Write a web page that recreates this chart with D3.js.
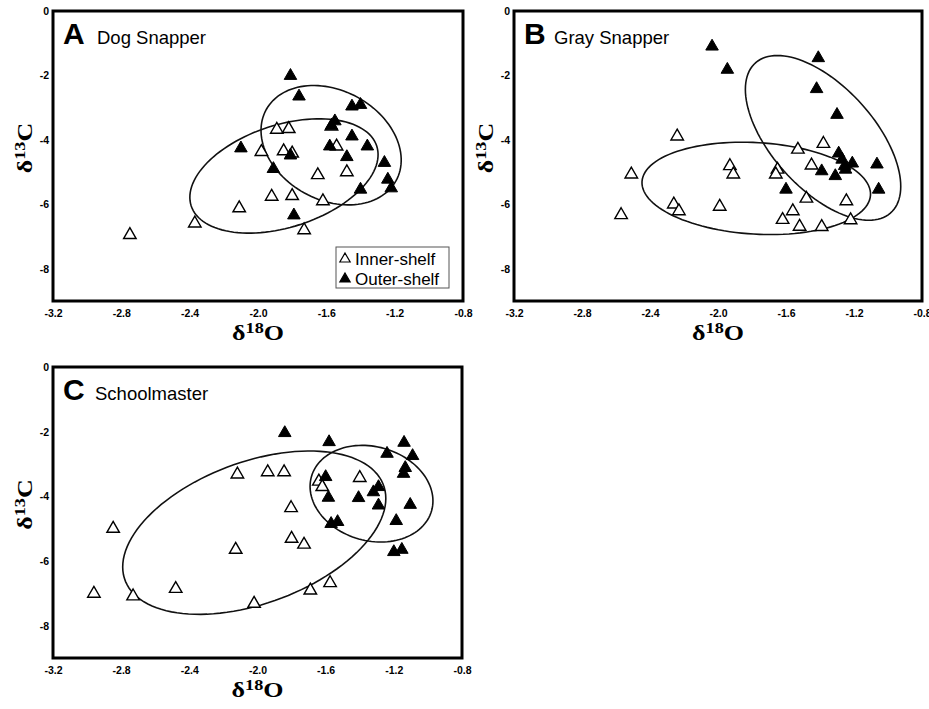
<!DOCTYPE html>
<html>
<head>
<meta charset="utf-8">
<script src="https://cdn.jsdelivr.net/npm/d3@7"></script>
<style>
body{margin:0;background:#fff;}
text{font-family:"Liberation Sans",Arial,sans-serif;}
</style>
</head>
<body>
<script>
const width = 929;
const height = 709;

const xTicks = [-3.2,-2.8,-2.4,-2.0,-1.6,-1.2,-0.8];
const yTicks = [0,-2,-4,-6,-8];

// [d18O, d13C]
const dogInner = [[-2.75,-6.95],[-2.37,-6.59],[-2.11,-6.12],[-1.98,-4.37],[-1.89,-3.68],[-1.82,-3.66],
[-1.85,-4.35],[-1.80,-4.42],[-1.92,-5.76],[-1.80,-5.74],[-1.73,-6.80],[-1.65,-5.09],[-1.62,-5.90],
[-1.54,-4.20],[-1.48,-5.00],[-1.57,-3.58]];
const dogOuter = [[-1.81,-2.01],[-1.76,-2.65],[-2.10,-4.26],[-1.91,-4.90],[-1.81,-4.48],[-1.79,-6.34],
[-1.45,-2.96],[-1.40,-2.91],[-1.55,-3.42],[-1.57,-3.56],[-1.58,-4.20],[-1.45,-3.89],[-1.36,-4.20],
[-1.48,-4.53],[-1.26,-4.71],[-1.24,-5.23],[-1.22,-5.50],[-1.40,-5.54]];

const grayInner = [[-2.57,-6.33],[-2.51,-5.07],[-2.26,-6.00],[-2.23,-6.21],[-2.24,-3.89],[-1.99,-6.07],
[-1.93,-4.81],[-1.91,-5.07],[-1.65,-4.92],[-1.66,-5.07],[-1.53,-4.30],[-1.45,-4.79],[-1.38,-4.12],
[-1.48,-5.82],[-1.56,-6.21],[-1.62,-6.48],[-1.52,-6.69],[-1.39,-6.70],[-1.245,-5.90],[-1.22,-6.49]];
const grayOuter = [[-2.035,-1.10],[-1.945,-1.82],[-1.41,-1.46],[-1.42,-2.42],[-1.30,-3.22],[-1.29,-4.42],
[-1.27,-4.61],[-1.255,-4.81],[-1.21,-4.73],[-1.39,-4.97],[-1.31,-5.12],[-1.25,-4.92],[-1.065,-4.76],
[-1.055,-5.54],[-1.60,-5.54]];

const schoolInner = [[-2.96,-7.01],[-2.847,-5.00],[-2.73,-7.09],[-2.48,-6.86],[-2.128,-5.65],[-2.118,-3.32],
[-1.94,-3.25],[-1.844,-3.25],[-1.803,-4.36],[-1.80,-5.31],[-1.727,-5.49],[-2.02,-7.32],[-1.69,-6.91],
[-1.574,-6.68],[-1.64,-3.54],[-1.62,-3.71],[-1.40,-3.43]];
const schoolOuter = [[-1.84,-2.04],[-1.58,-2.32],[-1.60,-3.40],[-1.584,-4.04],[-1.568,-4.85],[-1.53,-4.79],
[-1.407,-4.05],[-1.32,-3.87],[-1.29,-3.71],[-1.29,-4.28],[-1.24,-2.68],[-1.14,-2.34],[-1.09,-2.75],
[-1.133,-3.12],[-1.143,-3.30],[-1.104,-4.26],[-1.186,-4.76],[-1.20,-5.72],[-1.153,-5.65]];

// ellipses: centre and two conjugate half-axis vectors, in data units
const dogEllipses = [
{cx:-1.848,cy:-5.12,ux:0.543,uy:0.930,vx:0.093,vy:-1.510},
{cx:-1.572,cy:-4.165,ux:0.3795,uy:-1.109,vx:-0.156,vy:-1.484}
];
const grayEllipses = [
{cx:-1.775,cy:-5.505,ux:0.672,uy:-0.210,vx:-0.016,vy:-1.418},
{cx:-1.382,cy:-3.938,ux:0.457,uy:-1.504,vx:0,vy:-2.067}
];
const schoolEllipses = [
{cx:-2.019,cy:-5.124,ux:0.772,uy:1.060,vx:0,vy:-2.293},
{cx:-1.331,cy:-3.918,ux:0.3605,uy:-0.224,vx:0,vy:-1.478}
];

const legendLabels = ["Inner-shelf","Outer-shelf"];

const panels = [
{letter:"A",name:"Dog Snapper",inner:dogInner,outer:dogOuter,ell:dogEllipses,
 left:53,right:463,top:11,bottom:301,nameDx:44,legend:true},
{letter:"B",name:"Gray Snapper",inner:grayInner,outer:grayOuter,ell:grayEllipses,
 left:514,right:922,top:11,bottom:301,nameDx:40,legend:false},
{letter:"C",name:"Schoolmaster",inner:schoolInner,outer:schoolOuter,ell:schoolEllipses,
 left:53,right:462,top:367,bottom:658,nameDx:42,legend:false}
];

const svg = d3.select("body")
.append("svg")
.attr("width",width)
.attr("height",height);

const tri = d3.symbol().type(d3.symbolTriangle).size(68);
const triSmall = d3.symbol().type(d3.symbolTriangle).size(46);

panels.forEach(p=>{

const g = svg.append("g");

const x = d3.scaleLinear().domain([-3.2,-0.8]).range([p.left,p.right]);
const y = d3.scaleLinear().domain([-9,0]).range([p.bottom,p.top]);

// X AXIS
g.append("g")
.attr("transform",`translate(0,${p.bottom})`)
.call(d3.axisBottom(x).tickValues(xTicks).tickSize(0).tickPadding(9).tickFormat(d=>d.toFixed(1)))
.call(a=>a.select(".domain").remove())
.selectAll("text")
.style("font-family","'Liberation Sans',Arial,sans-serif")
.style("font-weight","bold")
.style("font-size","10.5px")
.attr("fill","#000");

// Y AXIS
g.append("g")
.attr("transform",`translate(${p.left},0)`)
.call(d3.axisLeft(y).tickValues(yTicks).tickSize(0).tickPadding(4).tickFormat(d=>d.toFixed(0)))
.call(a=>a.select(".domain").remove())
.selectAll("text")
.style("font-family","'Liberation Sans',Arial,sans-serif")
.style("font-weight","bold")
.style("font-size","10.5px")
.attr("fill","#000");

// ELLIPSES
const line = d3.line().x(d=>x(d[0])).y(d=>y(d[1])).curve(d3.curveLinearClosed);
p.ell.forEach(e=>{
const pts = d3.range(0,360,3).map(deg=>{
const t = deg*Math.PI/180;
return [e.cx+e.ux*Math.cos(t)+e.vx*Math.sin(t), e.cy+e.uy*Math.cos(t)+e.vy*Math.sin(t)];
});
g.append("path")
.datum(pts)
.attr("fill","none")
.attr("stroke","#111")
.attr("stroke-width",1.6)
.attr("d",line);
});

// POINTS
g.selectAll(".inner")
.data(p.inner)
.enter()
.append("path")
.attr("class","inner")
.attr("transform",d=>`translate(${x(d[0])},${y(d[1])})`)
.attr("d",tri)
.attr("fill","#fff")
.attr("stroke","#000")
.attr("stroke-width",1.4);

g.selectAll(".outer")
.data(p.outer)
.enter()
.append("path")
.attr("class","outer")
.attr("transform",d=>`translate(${x(d[0])},${y(d[1])})`)
.attr("d",tri)
.attr("fill","#000")
.attr("stroke","#000")
.attr("stroke-width",1);

// FRAME
g.append("rect")
.attr("x",p.left)
.attr("y",p.top)
.attr("width",p.right-p.left)
.attr("height",p.bottom-p.top)
.attr("fill","none")
.attr("stroke","#000")
.attr("stroke-width",3);

// TITLE
g.append("text")
.attr("x",p.left+10)
.attr("y",p.top+33)
.style("font-weight","bold")
.style("font-size","30px")
.text(p.letter);

g.append("text")
.attr("x",p.left+p.nameDx)
.attr("y",p.top+33)
.style("font-size","18.5px")
.text(p.name);

// X LABEL
const xl = g.append("text")
.attr("transform",`translate(${(p.left+p.right)/2},${p.bottom+39}) scale(1.3,1)`)
.attr("text-anchor","middle")
.style("font-family","'Liberation Serif','Times New Roman',serif")
.style("font-weight","bold")
.style("font-size","20px");
xl.append("tspan").text("δ");
xl.append("tspan").attr("dy",-7).style("font-size","14px").text("18");
xl.append("tspan").attr("dy",7).text("O");

// Y LABEL
const yl = g.append("text")
.attr("transform",`translate(${p.left-21},${(p.top+p.bottom)/2-8}) rotate(-90) scale(1.3,1)`)
.attr("text-anchor","middle")
.style("font-family","'Liberation Serif','Times New Roman',serif")
.style("font-weight","bold")
.style("font-size","20px");
yl.append("tspan").text("δ");
yl.append("tspan").attr("dy",-7).style("font-size","14px").text("13");
yl.append("tspan").attr("dy",7).text("C");

// LEGEND
if(p.legend){
const lx = p.right-127, ly = p.bottom-54;
const lg = g.append("g").attr("transform",`translate(${lx},${ly})`);
lg.append("rect")
.attr("width",113)
.attr("height",41)
.attr("fill","#fff")
.attr("stroke","#555")
.attr("stroke-width",1);
lg.selectAll(".lsym")
.data(legendLabels)
.enter()
.append("path")
.attr("class","lsym")
.attr("transform",(d,i)=>`translate(9,${12+i*20})`)
.attr("d",triSmall)
.attr("fill",(d,i)=>i===0?"#fff":"#000")
.attr("stroke","#000")
.attr("stroke-width",1.2);
lg.selectAll(".ltxt")
.data(legendLabels)
.enter()
.append("text")
.attr("class","ltxt")
.attr("x",19)
.attr("y",(d,i)=>18+i*20)
.style("font-size","17px")
.text(d=>d);
}

});
</script>
</body>
</html>
